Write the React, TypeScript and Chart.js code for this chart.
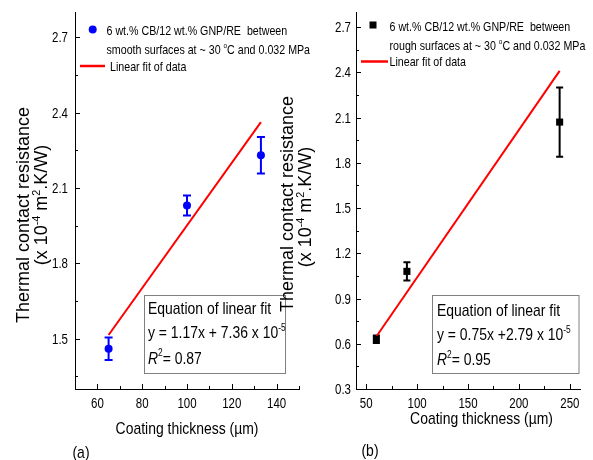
import { useEffect, useRef } from 'react';
import { Chart, registerables } from 'chart.js';

Chart.register(...registerables);

// ---------- data (a) smooth surfaces ----------
const smoothThickness = [65, 100, 133];
const smoothResistance = [1.46, 2.03, 2.23];
const smoothError = [0.045, 0.04, 0.073];
const smoothFitX = [65, 133];
const smoothFitY = [1.515, 2.362];
const smoothXTicks = [60, 80, 100, 120, 140];
const smoothXMinor = [70, 90, 110, 130, 150];
const smoothYTicks = [1.5, 1.8, 2.1, 2.4, 2.7];
const smoothYMinor = [1.35, 1.65, 1.95, 2.25, 2.55];

// ---------- data (b) rough surfaces ----------
const roughThickness = [60, 90, 240];
const roughResistance = [0.63, 1.08, 2.07];
const roughError = [0.025, 0.06, 0.23];
const roughFitX = [60, 240];
const roughFitY = [0.648, 2.41];
const roughXTicks = [50, 100, 150, 200, 250];
const roughXMinor = [75, 125, 175, 225];
const roughYTicks = [0.3, 0.6, 0.9, 1.2, 1.5, 1.8, 2.1, 2.4, 2.7];
const roughYMinor = [0.45, 0.75, 1.05, 1.35, 1.65, 1.95, 2.25, 2.55];

// ---------- texts ----------
type Seg = { t: string; sup?: boolean; italic?: boolean };
const yTitle1: Seg[] = [{ t: 'Thermal contact resistance' }];
const yTitle2: Seg[] = [{ t: '(x 10' }, { t: '-4', sup: true }, { t: ' m' }, { t: '2', sup: true }, { t: '.K/W)' }];
const xTitle: Seg[] = [{ t: 'Coating thickness (\u00b5m)' }];
const legendSmooth1: Seg[] = [{ t: '6 wt.% CB/12 wt.% GNP/RE  between' }];
const legendSmooth2: Seg[] = [{ t: 'smooth surfaces at ~ 30 ' }, { t: 'o', sup: true }, { t: 'C and 0.032 MPa' }];
const legendRough1: Seg[] = [{ t: '6 wt.% CB/12 wt.% GNP/RE  between' }];
const legendRough2: Seg[] = [{ t: 'rough surfaces at ~ 30 ' }, { t: 'o', sup: true }, { t: 'C and 0.032 MPa' }];
const legendFit: Seg[] = [{ t: 'Linear fit of data' }];
const eqTitle: Seg[] = [{ t: 'Equation of linear fit' }];
const eqSmooth: Seg[] = [{ t: 'y = 1.17x + 7.36 x 10' }, { t: '-5', sup: true }];
const r2Smooth: Seg[] = [{ t: 'R', italic: true }, { t: '2', sup: true }, { t: '= 0.87' }];
const eqRough: Seg[] = [{ t: 'y = 0.75x +2.79 x 10' }, { t: '-5', sup: true }];
const r2Rough: Seg[] = [{ t: 'R', italic: true }, { t: '2', sup: true }, { t: '= 0.95' }];
const labelA: Seg[] = [{ t: '(a)' }];
const labelB: Seg[] = [{ t: '(b)' }];

const FONT = "'Liberation Sans', Arial, sans-serif";
const SQ = 0.82; // horizontal condensing of horizontal text

function segFont(seg: Seg, size: number) {
  const s = seg.sup ? size * 0.6 : size;
  return `${seg.italic ? 'italic ' : ''}${s}px ${FONT}`;
}
function measureRich(ctx: CanvasRenderingContext2D, segs: Seg[], size: number) {
  let w = 0;
  for (const s of segs) {
    ctx.font = segFont(s, size);
    w += ctx.measureText(s.t).width;
  }
  return w;
}
// draws rich text with baseline y; sx = horizontal squeeze
function drawRich(ctx: CanvasRenderingContext2D, segs: Seg[], x: number, y: number, size: number, align: 'left' | 'center' | 'right' = 'left', sx = SQ) {
  const w = measureRich(ctx, segs, size) * sx;
  const x0 = align === 'center' ? x - w / 2 : align === 'right' ? x - w : x;
  ctx.save();
  ctx.translate(x0, y);
  ctx.scale(sx, 1);
  ctx.fillStyle = '#000';
  ctx.textAlign = 'left';
  ctx.textBaseline = 'alphabetic';
  let cx = 0;
  for (const s of segs) {
    ctx.font = segFont(s, size);
    ctx.fillText(s.t, cx, s.sup ? -size * 0.42 : 0);
    cx += ctx.measureText(s.t).width;
  }
  ctx.restore();
}
function drawVertical(ctx: CanvasRenderingContext2D, segs: Seg[], cx: number, cy: number, size: number) {
  ctx.save();
  ctx.translate(cx, cy);
  ctx.rotate(-Math.PI / 2);
  drawRich(ctx, segs, 0, size * 0.36, size, 'center', 1);
  ctx.restore();
}

interface Spec {
  thickness: number[]; resistance: number[]; error: number[];
  fitX: number[]; fitY: number[];
  xTicks: number[]; xMinor: number[]; yTicks: number[]; yMinor: number[];
  xMin: number; xMax: number; yMin: number; yMax: number;
  color: string; pointStyle: 'circle' | 'rect'; pointRadius: number; capHalf: number;
  pad: { left: number; right: number; top: number; bottom: number };
  yLabelPad: number;
  decorate: (ctx: CanvasRenderingContext2D) => void;
}

function buildConfig(spec: Spec): any {
  const decor = {
    id: 'decor',
    beforeDatasetsDraw(chart: any) {
      const ctx = chart.ctx as CanvasRenderingContext2D;
      const xs = chart.scales.x, ys = chart.scales.y;
      ctx.save();
      ctx.strokeStyle = spec.color;
      ctx.lineWidth = 2;
      spec.thickness.forEach((t, i) => {
        const px = xs.getPixelForValue(t);
        const top = ys.getPixelForValue(spec.resistance[i] + spec.error[i]);
        const bot = ys.getPixelForValue(spec.resistance[i] - spec.error[i]);
        ctx.beginPath();
        ctx.moveTo(px, top); ctx.lineTo(px, bot);
        ctx.moveTo(px - spec.capHalf, top); ctx.lineTo(px + spec.capHalf, top);
        ctx.moveTo(px - spec.capHalf, bot); ctx.lineTo(px + spec.capHalf, bot);
        ctx.stroke();
      });
      ctx.restore();
    },
    afterDraw(chart: any) {
      const ctx = chart.ctx as CanvasRenderingContext2D;
      const xs = chart.scales.x, ys = chart.scales.y;
      const a = chart.chartArea;
      ctx.save();
      ctx.strokeStyle = '#000';
      ctx.lineWidth = 1;
      ctx.beginPath();
      const xt = (vals: number[], len: number) => vals.forEach(v => {
        const px = Math.round(xs.getPixelForValue(v)) + 0.5;
        ctx.moveTo(px, a.bottom); ctx.lineTo(px, a.bottom - len);
      });
      const yt = (vals: number[], len: number) => vals.forEach(v => {
        const py = Math.round(ys.getPixelForValue(v)) + 0.5;
        ctx.moveTo(a.left, py); ctx.lineTo(a.left + len, py);
      });
      xt(spec.xTicks, 5); xt(spec.xMinor, 3);
      yt(spec.yTicks, 5); yt(spec.yMinor, 3);
      ctx.stroke();
      // tick labels from the chart's own scales
      xs.ticks.forEach((t: any) => {
        const label = t.label ?? String(t.value);
        drawRich(ctx, [{ t: String(label) }], xs.getPixelForValue(t.value), a.bottom + 19, 14, 'center');
      });
      ys.ticks.forEach((t: any) => {
        const label = t.label ?? Number(t.value).toFixed(1);
        drawRich(ctx, [{ t: String(label) }], a.left - spec.yLabelPad, ys.getPixelForValue(t.value) + 5, 14, 'right');
      });
      spec.decorate(ctx);
      ctx.restore();
    },
  };
  const fixY = (s: any) => { s.width = 40; s.paddingTop = 0; s.paddingBottom = 0; s.paddingLeft = 0; s.paddingRight = 0; };
  const fixX = (s: any) => { s.height = 30; s.paddingTop = 0; s.paddingBottom = 0; s.paddingLeft = 0; s.paddingRight = 0; };
  return {
    type: 'scatter',
    data: {
      datasets: [
        {
          label: 'data',
          data: spec.thickness.map((x, i) => ({ x, y: spec.resistance[i] })),
          backgroundColor: spec.color,
          borderColor: spec.color,
          borderWidth: 0,
          pointStyle: spec.pointStyle,
          pointRadius: spec.pointRadius,
        },
        {
          label: 'fit',
          data: spec.fitX.map((x, i) => ({ x, y: spec.fitY[i] })),
          showLine: true,
          borderColor: '#ff0000',
          borderWidth: 2,
          pointRadius: 0,
          clip: false,
        },
      ],
    },
    options: {
      animation: false,
      responsive: false,
      devicePixelRatio: 1,
      layout: { padding: spec.pad },
      plugins: { legend: { display: false }, tooltip: { enabled: false }, title: { display: false } },
      scales: {
        x: {
          type: 'linear', min: spec.xMin, max: spec.xMax,
          afterBuildTicks: (s: any) => { s.ticks = spec.xTicks.map(v => ({ value: v })); },
          afterFit: fixX,
          grid: { display: false, drawTicks: false },
          border: { display: true, color: '#000', width: 1 },
          ticks: { display: false, callback: (v: any) => String(v) },
        },
        y: {
          type: 'linear', min: spec.yMin, max: spec.yMax,
          afterBuildTicks: (s: any) => { s.ticks = spec.yTicks.map(v => ({ value: v })); },
          afterFit: fixY,
          grid: { display: false, drawTicks: false },
          border: { display: true, color: '#000', width: 1 },
          ticks: { display: false, callback: (v: any) => Number(v).toFixed(1) },
        },
      },
    },
    plugins: [decor],
  };
}

const smoothSpec: Spec = {
  thickness: smoothThickness, resistance: smoothResistance, error: smoothError,
  fitX: smoothFitX, fitY: smoothFitY,
  xTicks: smoothXTicks, xMinor: smoothXMinor, yTicks: smoothYTicks, yMinor: smoothYMinor,
  xMin: 50, xMax: 150, yMin: 1.3, yMax: 2.8,
  color: '#0000ff', pointStyle: 'circle', pointRadius: 4, capHalf: 4,
  pad: { left: 35, right: 294, top: 12, bottom: 41 },
  yLabelPad: 7,
  decorate: (ctx) => {
    // legend
    ctx.fillStyle = '#0000ff';
    ctx.beginPath(); ctx.arc(92.7, 29.5, 4, 0, Math.PI * 2); ctx.fill();
    drawRich(ctx, legendSmooth1, 106.5, 34.5, 13);
    drawRich(ctx, legendSmooth2, 106.5, 53.5, 13);
    ctx.strokeStyle = '#ff0000'; ctx.lineWidth = 2.5;
    ctx.beginPath(); ctx.moveTo(80, 66); ctx.lineTo(105, 66); ctx.stroke();
    drawRich(ctx, legendFit, 110, 70.5, 13);
    // equation box
    ctx.strokeStyle = '#808080'; ctx.lineWidth = 1;
    ctx.strokeRect(144.5, 295.5, 141, 78);
    drawRich(ctx, eqTitle, 148, 313.5, 17);
    drawRich(ctx, eqSmooth, 148, 338, 17);
    drawRich(ctx, r2Smooth, 148, 363.5, 17);
    // titles
    drawVertical(ctx, yTitle1, 23, 215, 18);
    drawVertical(ctx, yTitle2, 41, 205, 18);
    drawRich(ctx, xTitle, 187, 434, 17, 'center');
    drawRich(ctx, labelA, 81, 458, 17, 'center');
  },
};

const roughSpec: Spec = {
  thickness: roughThickness, resistance: roughResistance, error: roughError,
  fitX: roughFitX, fitY: roughFitY,
  xTicks: roughXTicks, xMinor: roughXMinor, yTicks: roughYTicks, yMinor: roughYMinor,
  xMin: 40, xMax: 260, yMin: 0.3, yMax: 2.8,
  color: '#000000', pointStyle: 'rect', pointRadius: 5, capHalf: 3.5,
  pad: { left: 316, right: 13, top: 12, bottom: 41 },
  yLabelPad: 5,
  decorate: (ctx) => {
    ctx.fillStyle = '#000';
    ctx.fillRect(369.5, 21.5, 7, 7);
    drawRich(ctx, legendRough1, 389.5, 30.5, 13);
    drawRich(ctx, legendRough2, 389.5, 49.5, 13);
    ctx.strokeStyle = '#ff0000'; ctx.lineWidth = 2.5;
    ctx.beginPath(); ctx.moveTo(361, 61.5); ctx.lineTo(388, 61.5); ctx.stroke();
    drawRich(ctx, legendFit, 389.5, 66, 13);
    ctx.strokeStyle = '#808080'; ctx.lineWidth = 1;
    ctx.strokeRect(432.5, 295.5, 146.5, 78);
    drawRich(ctx, eqTitle, 437, 316, 17);
    drawRich(ctx, eqRough, 437, 340, 17);
    drawRich(ctx, r2Rough, 437, 365, 17);
    drawVertical(ctx, yTitle1, 287, 204, 18);
    drawVertical(ctx, yTitle2, 305, 207, 18);
    drawRich(ctx, xTitle, 481.5, 424, 17, 'center');
    drawRich(ctx, labelB, 370, 456, 17, 'center');
  },
};

function Panel({ spec }: { spec: Spec }) {
  const ref = useRef<HTMLCanvasElement>(null);
  useEffect(() => {
    if (!ref.current) return;
    const chart = new Chart(ref.current, buildConfig(spec));
    return () => chart.destroy();
  }, [spec]);
  return (
    <canvas
      ref={ref}
      width={593}
      height={460}
      style={{ position: 'absolute', left: 0, top: 0, width: 593, height: 460 }}
    />
  );
}

export default function App() {
  return (
    <div style={{ position: 'fixed', left: 0, top: 0, width: 593, height: 460, background: '#fff' }}>
      <Panel spec={smoothSpec} />
      <Panel spec={roughSpec} />
    </div>
  );
}
